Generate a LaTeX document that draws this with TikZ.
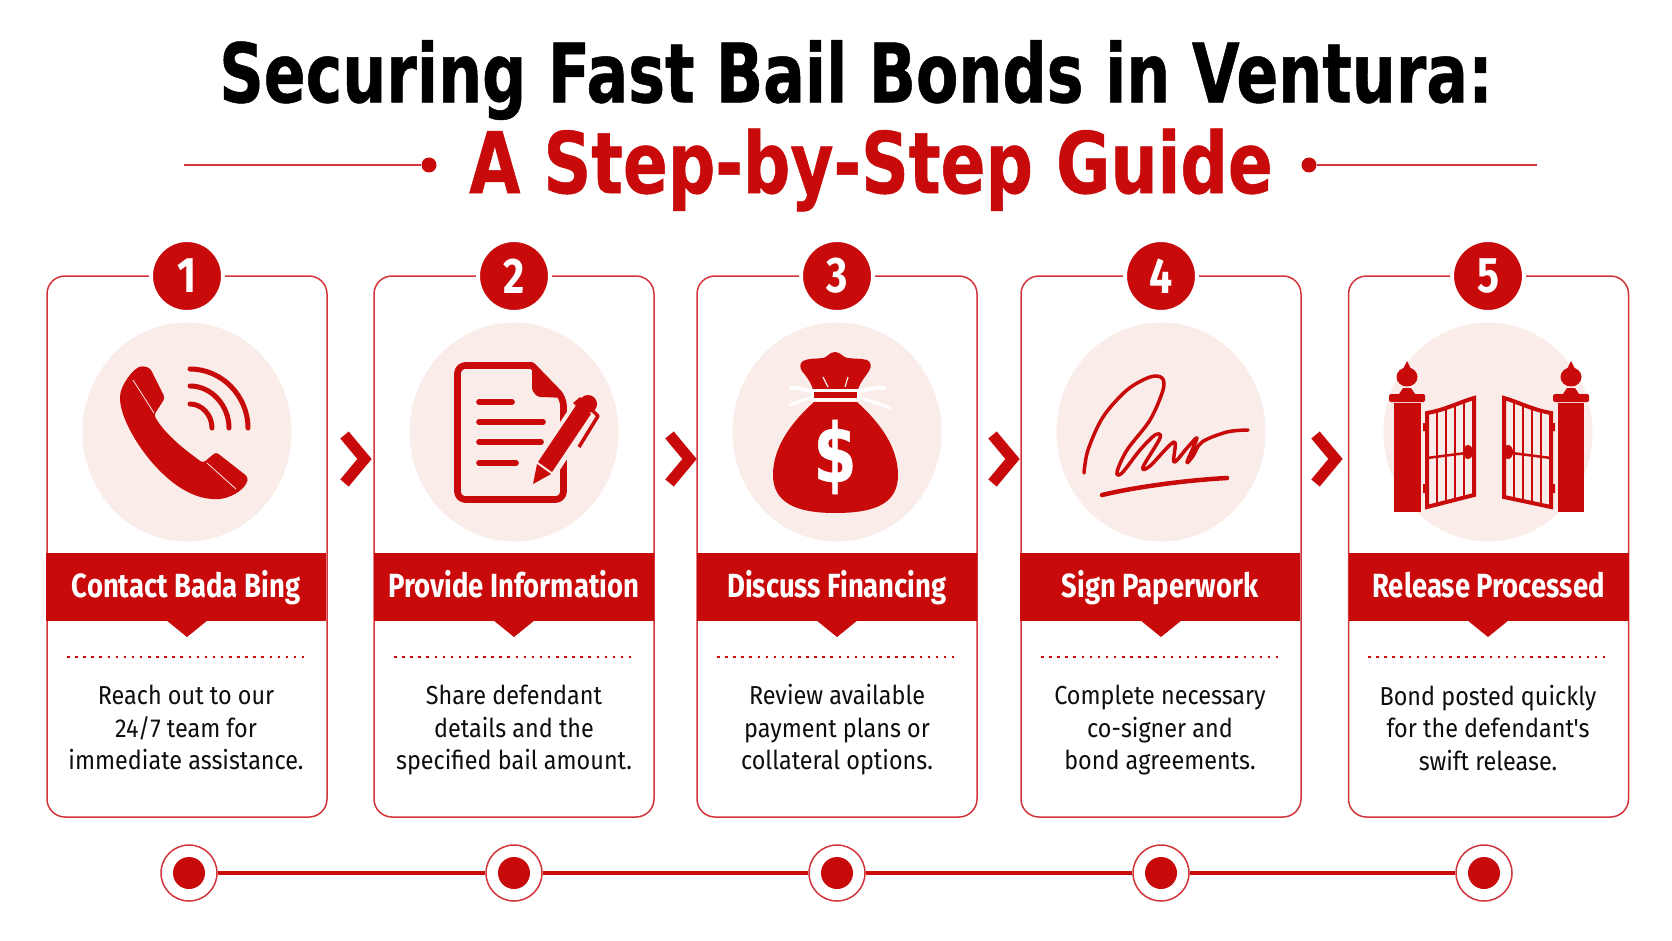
\documentclass[tikz,border=0pt]{standalone}
\usepackage{fontspec}
\usetikzlibrary{shapes.geometric}
\newfontfamily\titlefont[FakeStretch=0.754,FakeBold=0.6]{DejaVu Sans}
\newfontfamily\guidefont[FakeStretch=0.78,FakeBold=0.6]{DejaVu Sans}
\newfontfamily\headfont[FakeStretch=0.82]{Fira Sans}
\newfontfamily\bodyfont[FakeStretch=0.90]{Fira Sans}
\definecolor{bailred}{HTML}{C80A0A}
\definecolor{edgered}{HTML}{D2343A}
\definecolor{palered}{HTML}{F9ECE9}
\definecolor{inkblack}{HTML}{0E0E0E}
\begin{document}
\begin{tikzpicture}[x=1pt,y=-1pt]
        \tikzstyle{card}=[rectangle,draw=edgered,line width=1.5pt,rounded corners=18pt,fill=white,minimum width=280,minimum height=541,inner sep=0]
        \tikzstyle{halo}=[ellipse,fill=palered,minimum width=209,minimum height=219,inner sep=0]
        \tikzstyle{badge}=[circle,fill=bailred,draw=white,line width=4pt,minimum size=72,inner sep=0,text=white,font=\headfont\fontsize{50}{50}\selectfont\bfseries]
        \tikzstyle{banner}=[rectangle,fill=bailred,minimum width=280,minimum height=68,inner sep=0,text height=26,text depth=6,text=white,font=\headfont\fontsize{33.5}{36}\selectfont\bfseries]
        \tikzstyle{pointer}=[fill=bailred]
        \tikzstyle{blurb}=[anchor=north,align=center,inner sep=0,text=inkblack,font=\bodyfont\fontsize{26}{32.5}\selectfont]
        \tikzstyle{divider}=[bailred,line width=2.5pt,dash pattern=on 2.5pt off 5.6pt]
        \tikzstyle{chevron}=[bailred,line width=11pt,miter limit=10]
        \tikzstyle{ring}=[circle,draw=edgered,line width=1.5pt,fill=white,minimum size=56,inner sep=0]
        \tikzstyle{pip}=[circle,fill=bailred,minimum size=32,inner sep=0]
        \tikzstyle{ruledot}=[circle,fill=bailred,minimum size=15,inner sep=0]
        \tikzstyle{rule}=[edgered,line width=1.8pt]
        \tikzstyle{track}=[bailred,line width=4.5pt]
        \tikzstyle{icon}=[bailred,line width=6pt,line cap=round,line join=round]
        \useasboundingbox (0,0) rectangle (1672,941);
        % heading
        \node [inner sep=0,text=black,font=\titlefont\fontsize{82}{82}\selectfont\bfseries] (title) at (856,80) {Securing Fast Bail Bonds in Ventura:};
        \node [inner sep=0,text=bailred,font=\guidefont\fontsize{85}{85}\selectfont\bfseries] (subtitle) at (871,170) {A Step-by-Step Guide};
        \coordinate (rulel) at (184,165);
        \coordinate (ruler) at (1537,165);
        \node [ruledot] (dotl) at (429,165) {};
        \node [ruledot] (dotr) at (1309,165) {};
        \draw [rule] (rulel) -- (dotl);
        \draw [rule] (dotr) -- (ruler);
        % cards
        \node [card] (card1) at (187,546.5) {};
        \node [card] (card2) at (514,546.5) {};
        \node [card] (card3) at (837,546.5) {};
        \node [card] (card4) at (1161,546.5) {};
        \node [card] (card5) at (1488.5,546.5) {};
        \node [badge] (num1) at (187,276) {1};
        \node [badge] (num2) at (514,276) {2};
        \node [badge] (num3) at (837,276) {3};
        \node [badge] (num4) at (1161,276) {4};
        \node [badge] (num5) at (1488,276) {5};
        \node [halo] (halo1) at (187,432) {};
        \node [halo] (halo2) at (514,432) {};
        \node [halo] (halo3) at (837,432) {};
        \node [halo] (halo4) at (1161,432) {};
        \node [halo] (halo5) at (1488,432) {};
        \fill [pointer] (166,620) -- (208,620) -- (187,637) -- cycle;
        \fill [pointer] (493,620) -- (535,620) -- (514,637) -- cycle;
        \fill [pointer] (816,620) -- (858,620) -- (837,637) -- cycle;
        \fill [pointer] (1140,620) -- (1182,620) -- (1161,637) -- cycle;
        \fill [pointer] (1467,620) -- (1509,620) -- (1488,637) -- cycle;
        \node [banner] (head1) at (186,587) {Contact Bada Bing};
        \node [banner] (head2) at (514,587) {Provide Information};
        \node [banner] (head3) at (837,587) {Discuss Financing};
        \node [banner] (head4) at (1160,587) {Sign Paperwork};
        \node [banner] (head5) at (1488.5,587) {Release Processed};
        \draw [divider] (67,657) -- (307,657);
        \draw [divider] (394,657) -- (634,657);
        \draw [divider] (717,657) -- (957,657);
        \draw [divider] (1041,657) -- (1281,657);
        \draw [divider] (1368,657) -- (1608,657);
        \node [blurb] (text1) at (186,685) {Reach out to our\\24/7 team for\\immediate assistance.};
        \node [blurb] (text2) at (514,685) {Share defendant\\details and the\\specified bail amount.};
        \node [blurb] (text3) at (837,684.5) {Review available\\payment plans or\\collateral options.};
        \node [blurb] (text4) at (1160,685) {Complete necessary\\co-signer and\\bond agreements.};
        \node [blurb] (text5) at (1488,685) {Bond posted quickly\\for the defendant's\\swift release.};
        % chevrons between the cards
        \draw [chevron] (344.5,435) -- ++(20,24) -- ++(-20,24);
        \draw [chevron] (669.5,435) -- ++(20,24) -- ++(-20,24);
        \draw [chevron] (992.5,435) -- ++(20,24) -- ++(-20,24);
        \draw [chevron] (1315.5,435) -- ++(20,24) -- ++(-20,24);
        % phone
        \fill [bailred,rounded corners=3pt] (143,366) .. controls (134,368) and (120,385) .. (120,400)
            .. controls (124,432) and (166,494) .. (212,499) .. controls (228,500) and (246,490) .. (248,477)
            -- (216,452) -- (203,463) .. controls (188,452) and (166,436) .. (154,415) -- (165,398) -- (150,368) -- cycle;
        \draw [palered,line width=0.8pt] (133,380) -- (154,413);
        \draw [palered,line width=0.8pt] (207,463) -- (236,489);
        \draw [icon,line width=5pt] (190,369) .. controls (222,369) and (248,396) .. (248,428);
        \draw [icon,line width=5pt] (190,386) .. controls (212,386) and (229,406) .. (229,428);
        \draw [icon,line width=5pt] (190,404) .. controls (202,404) and (212,415) .. (212,428);
        % document and pen
        \draw [icon,line width=6.7pt,rounded corners=8pt] (532,365.5) -- (457.5,365.5) -- (457.5,499.5) -- (563.5,499.5) -- (563.5,398) [sharp corners] -- (532,365.5);
        \fill [bailred,rounded corners=3pt] (532,365) -- (532,385) .. controls (532,392) and (537,397) .. (543,397) -- (566,398) -- cycle;
        \draw [icon,line width=5.7pt] (479,402) -- (512,402);
        \draw [icon,line width=5.7pt] (479,422) -- (543,422);
        \draw [icon,line width=5.7pt] (479,442) -- (541,442);
        \draw [icon,line width=5.7pt] (479,463) -- (516,463);
        \draw [palered,line width=26pt] (543,472) -- (585,408);
        \fill [bailred] (538,462) -- (552,472) -- (591,414) -- (577,404) -- cycle;
        \fill [bailred] (533,484) -- (551,474) -- (537,464) -- cycle;
        \fill [bailred] (588,404) circle (9);
        \fill [bailred] (573,403) -- (580,397) -- (586,404) -- (579,409) -- cycle;
        \draw [bailred,line width=3.5pt,line join=round] (590,408) -- (598,416) -- (579,447);
        % money bag
        \fill [bailred] (835,352) .. controls (829,352) and (827,358) .. (823,358) .. controls (816,359) and (809,358) .. (803,361)
            .. controls (799,364) and (800,368) .. (802,371) .. controls (806,376) and (811,382) .. (813,390) -- (858,390)
            .. controls (860,382) and (866,376) .. (869,371) .. controls (872,366) and (871,362) .. (867,360)
            .. controls (860,358) and (853,359) .. (848,358) .. controls (843,358) and (841,352) .. (835,352) -- cycle;
        \draw [palered,line width=1.2pt] (823,377) -- (828,387) (848,377) -- (845,387);
        \fill [bailred] (814,402) .. controls (794,420) and (773,445) .. (773,475) .. controls (773,502) and (795,513) .. (835,513)
            .. controls (878,513) and (898,502) .. (898,475) .. controls (898,445) and (877,420) .. (857,402) -- cycle;
        \draw [white,line width=4pt,line cap=round] (813,391) .. controls (803,391) and (798,386) .. (791,388);
        \draw [white,line width=4pt,line cap=round] (857,391) .. controls (867,391) and (875,386) .. (884,388);
        \draw [white,line width=3pt,line cap=round] (813,397) .. controls (803,400) and (798,402) .. (790,405);
        \draw [white,line width=3pt,line cap=round] (857,397) .. controls (867,400) and (880,404) .. (890,408);
        \fill [white,rounded corners=1pt] (811,389) rectangle (860,401);
        \fill [bailred] (814,392) rectangle (857,397.5);
        \node [inner sep=0,text=white,font=\titlefont\fontsize{82}{82}\selectfont\bfseries] (dollar) at (835,457) {\$};
        % signature
        \draw [bailred,line width=3.5pt,line cap=round,line join=round] plot [smooth,tension=0.55] coordinates {(1084,473) (1088,450) (1103,417) (1127,390) (1150,377) (1162,378) (1163,390) (1150,420) (1127,450) (1117,472) (1122,473) (1140,450) (1155,435) (1160,438) (1143,467) (1150,466) (1174,442) (1174,462) (1187,448) (1197,438) (1187,462) (1193,456) (1202,442) (1227,432) (1248,430)};
        \draw [bailred,line width=4.5pt,line cap=round] (1102,495) .. controls (1140,486) and (1190,480) .. (1227,478);
        % gates
        \fill [bailred] (1394,403) rectangle (1421,512);
        \fill [bailred] (1558,403) rectangle (1584,512);
        \fill [bailred,rounded corners=1.5pt] (1389,394) rectangle (1425,402);
        \fill [bailred,rounded corners=1.5pt] (1553,394) rectangle (1589,402);
        \fill [bailred] (1403,388) -- (1411,388) -- (1415,394) -- (1399,394) -- cycle;
        \fill [bailred] (1567,388) -- (1575,388) -- (1579,394) -- (1563,394) -- cycle;
        \fill [bailred] (1407,377) ellipse (10.5 and 9.5);
        \fill [bailred] (1571,377) ellipse (10.5 and 9.5);
        \fill [bailred] (1403,369) -- (1407,361) -- (1411,369) -- cycle;
        \fill [bailred] (1567,369) -- (1571,361) -- (1575,369) -- cycle;
        \draw [bailred,line width=4pt,line join=miter] (1427,413) .. controls (1445,410) and (1460,402) .. (1474,398) -- (1474,495) -- (1427,507) -- cycle;
        \draw [bailred,line width=4pt,line join=miter] (1551,413) .. controls (1533,410) and (1518,402) .. (1504,398) -- (1504,497) -- (1551,507) -- cycle;
        \draw [bailred,line width=2.5pt] (1437,411) -- (1437,505) (1446,408) -- (1446,502) (1455,404) -- (1455,500) (1464,401) -- (1464,498);
        \draw [bailred,line width=2.5pt] (1541,411) -- (1541,505) (1532,408) -- (1532,503) (1523,404) -- (1523,501) (1514,401) -- (1514,499);
        \draw [bailred,line width=2.5pt] (1427,458) -- (1474,452) (1551,458) -- (1504,452);
        \fill [bailred] (1468,452) ellipse (5 and 7);
        \fill [bailred] (1508,452) ellipse (5 and 7);
        \fill [bailred] (1423,423) rectangle (1426,431) (1423,484) rectangle (1426,493);
        \fill [bailred] (1552,423) rectangle (1555,431) (1552,484) rectangle (1555,493);
        % timeline
        \node [ring] (ring1) at (189,873) {};
        \node [ring] (ring2) at (514,873) {};
        \node [ring] (ring3) at (837,873) {};
        \node [ring] (ring4) at (1161,873) {};
        \node [ring] (ring5) at (1484,873) {};
        \draw [track] (ring1) -- (ring2);
        \draw [track] (ring2) -- (ring3);
        \draw [track] (ring3) -- (ring4);
        \draw [track] (ring4) -- (ring5);
        \node [pip] (pip1) at (ring1) {};
        \node [pip] (pip2) at (ring2) {};
        \node [pip] (pip3) at (ring3) {};
        \node [pip] (pip4) at (ring4) {};
        \node [pip] (pip5) at (ring5) {};
\end{tikzpicture}
\end{document}
